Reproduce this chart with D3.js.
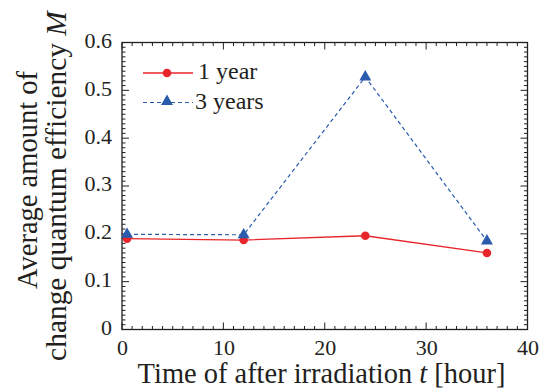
<!DOCTYPE html>
<html><head><meta charset="utf-8">
<script src="https://cdn.jsdelivr.net/npm/d3@7"></script>
<style>body{margin:0;background:#fff}svg{display:block}</style>
</head><body><svg id="c" width="547" height="392"></svg>
<script>
const hours1 = [0.5, 12, 24, 36];
const oneYear = [0.190, 0.187, 0.196, 0.160];
const hours3 = [0.5, 12, 24, 36];
const threeYears = [0.199, 0.198, 0.528, 0.185];
const xTicks = [0, 10, 20, 30, 40];
const yTicks = [0, 0.1, 0.2, 0.3, 0.4, 0.5, 0.6];
const yTickLabels = ["0", "0.1", "0.2", "0.3", "0.4", "0.5", "0.6"];
const seriesNames = ["1 year", "3 years"];

const FONT = "'Liberation Serif', 'Times New Roman', serif";
const svg = d3.select("#c");
const L = 122, R = 527.5, T = 42.5, B = 329.5;
const x = d3.scaleLinear().domain([0, 40]).range([L, R]);
const y = d3.scaleLinear().domain([0, 0.6]).range([B, T]);
const ink = "#231f20";
const red = "#e8252b", blue = "#2a5bad";

svg.append("rect").attr("x", L).attr("y", T).attr("width", R - L).attr("height", B - T)
  .attr("fill", "none").attr("stroke", ink).attr("stroke-width", 1.3);

const xMinor = d3.range(0, 41, 1), yMinor = d3.range(0, 61, 1).map(d => d / 100);
const tg = svg.append("g").attr("stroke", ink).attr("stroke-width", 1);
xMinor.forEach(v => {
  const major = v % 10 === 0, len = major ? 7 : 3.5;
  tg.append("line").attr("x1", x(v)).attr("x2", x(v)).attr("y1", B).attr("y2", B - len);
  tg.append("line").attr("x1", x(v)).attr("x2", x(v)).attr("y1", T).attr("y2", T + len);
});
yMinor.forEach((v, i) => {
  const major = i % 10 === 0, len = major ? 7 : 3.5;
  tg.append("line").attr("y1", y(v)).attr("y2", y(v)).attr("x1", L).attr("x2", L + len);
  tg.append("line").attr("y1", y(v)).attr("y2", y(v)).attr("x1", R).attr("x2", R - len);
});

const xa = svg.append("g").attr("transform", `translate(0,${B})`)
  .call(d3.axisBottom(x).tickValues(xTicks).tickSize(0).tickPadding(10).tickFormat(d3.format("d")));
xa.select(".domain").remove();
xa.attr("font-family", null).attr("font-size", null);
xa.selectAll("text").style("font-family", FONT).style("font-size", "22px").style("fill", ink);
const ya = svg.append("g").attr("transform", `translate(${L},0)`)
  .call(d3.axisLeft(y).tickValues(yTicks).tickSize(0).tickPadding(10).tickFormat((d, i) => yTickLabels[i]));
ya.select(".domain").remove();
ya.attr("font-family", null).attr("font-size", null);
ya.selectAll("text").style("font-family", FONT).style("font-size", "22px").style("fill", ink).attr("dy", "0.22em");

function txt(sel) { return sel.style("font-family", FONT).style("fill", ink); }
function fit(sel, w) {
  sel.style("font-size", "100px");
  const len = sel.node().getComputedTextLength();
  sel.style("font-size", (100 * w / len) + "px");
  return sel;
}

// titles
fit(txt(svg.append("text").attr("x", 321.5).attr("y", 383).attr("text-anchor", "middle"))
  .html('Time of after irradiation <tspan font-style="italic">t</tspan> [hour]'), 368);
fit(txt(svg.append("text").attr("text-anchor", "middle").attr("transform", "translate(37,180) rotate(-90)"))
  .text("Average amount of"), 218);
fit(txt(svg.append("text").attr("text-anchor", "middle").attr("transform", "translate(66,186) rotate(-90)"))
  .html('change quantum efficiency <tspan font-style="italic">M</tspan>'), 350);

// series
const line = d3.line().x(d => x(d[0])).y(d => y(d[1]));
const d1 = hours1.map((h, i) => [h, oneYear[i]]);
const d3s = hours3.map((h, i) => [h, threeYears[i]]);
const tri = d3.symbol().type(d3.symbolTriangle).size(62);

svg.append("path").datum(d3s).attr("d", line).attr("fill", "none").attr("stroke", blue)
  .attr("stroke-width", 1.2).attr("stroke-dasharray", "4,3");
svg.append("path").datum(d1).attr("d", line).attr("fill", "none").attr("stroke", red).attr("stroke-width", 1.3);
svg.selectAll("circle.p").data(d1).enter().append("circle").attr("cx", d => x(d[0])).attr("cy", d => y(d[1]))
  .attr("r", 4.3).attr("fill", red);
svg.selectAll("path.t").data(d3s).enter().append("path").attr("d", tri)
  .attr("transform", d => `translate(${x(d[0])},${y(d[1])})`).attr("fill", blue);

// legend
const lg = svg.append("g");
lg.append("line").attr("x1", 143).attr("x2", 193).attr("y1", 73).attr("y2", 73).attr("stroke", red).attr("stroke-width", 1.3);
lg.append("circle").attr("cx", 167).attr("cy", 73).attr("r", 4.3).attr("fill", red);
txt(lg.append("text").attr("x", 198).attr("y", 79).style("font-size", "24px")).text(seriesNames[0]);
lg.append("line").attr("x1", 143).attr("x2", 193).attr("y1", 102.5).attr("y2", 102.5).attr("stroke", blue)
  .attr("stroke-width", 1.2).attr("stroke-dasharray", "4,3");
lg.append("path").attr("d", tri).attr("transform", "translate(167,101.5)").attr("fill", blue);
txt(lg.append("text").attr("x", 195).attr("y", 109).style("font-size", "24px")).text(seriesNames[1]);
</script></body></html>
